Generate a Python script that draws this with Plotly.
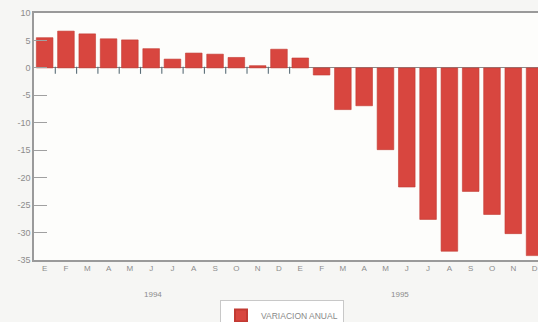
import plotly.graph_objects as go

months = ["E", "F", "M", "A", "M", "J", "J", "A", "S", "O", "N", "D",
          "E", "F", "M", "A", "M", "J", "J", "A", "S", "O", "N", "D"]
years = ["1994", "1995"]
year_pos = [5.1, 16.7]
variacion = [5.5, 6.7, 6.2, 5.3, 5.1, 3.5, 1.6, 2.7, 2.5, 1.9, 0.4, 3.4,
             1.8, -1.3, -7.6, -6.9, -14.9, -21.7, -27.6, -33.4, -22.5, -26.7, -30.2, -34.2]
y_ticks = [10, 5, 0, -5, -10, -15, -20, -25, -30, -35]

x = list(range(len(months)))
grey = "#8c8c8c"

fig = go.Figure()
fig.add_trace(go.Bar(
    x=x, y=variacion, name="VARIACION ANUAL",
    marker=dict(color="#d8463f", line=dict(color="#c23a33", width=0.6)),
    width=0.78,
))
# small ticks on the zero line between the 1994 bars
bx = [i + 0.5 for i in range(12)]
fig.add_trace(go.Scatter(
    x=bx, y=[-0.45] * len(bx), mode="markers", showlegend=False,
    marker=dict(symbol="line-ns", size=5, line=dict(color="#5a6e78", width=1.1)),
    hoverinfo="skip",
))

fig.update_layout(
    width=538, height=322,
    margin=dict(l=34, r=0, t=13, b=62),
    paper_bgcolor="#f6f6f4",
    plot_bgcolor="#fdfdfb",
    bargap=0.22,
    font=dict(family="Liberation Sans, Arial, sans-serif", color=grey),
    showlegend=True,
    legend=dict(
        orientation="h", xref="container", yref="container",
        x=282 / 538, xanchor="center", y=1 - 300 / 322, yanchor="top",
        bgcolor="#ffffff", bordercolor="#c8c8c8", borderwidth=1,
        font=dict(size=8.5, color="#8a8a8a"),
        itemsizing="constant", itemwidth=30,
        tracegroupgap=0,
    ),
    xaxis=dict(
        range=[-0.5, 23.16], tickmode="array", tickvals=x, ticktext=months,
        showgrid=False, zeroline=False, ticks="",
        showline=True, linecolor="#9a9a9a", linewidth=1.5, mirror=True,
        tickfont=dict(size=8, color="#8c8c8c"),
    ),
    yaxis=dict(
        range=[-35, 10], tickmode="array", tickvals=y_ticks,
        ticktext=[str(v) for v in y_ticks],
        showgrid=False, zeroline=True, zerolinecolor="#8a8a8a", zerolinewidth=1,
        showline=True, linecolor="#9a9a9a", linewidth=1.5,
        ticks="inside", ticklen=13, tickcolor="#a0a0a0", tickwidth=1,
        tickfont=dict(size=9, color="#8c8c8c"),
    ),
)

for yr, pos in zip(years, year_pos):
    fig.add_annotation(
        x=pos, y=0, xref="x", yref="paper",
        text=yr, showarrow=False, yanchor="top", yshift=-28,
        font=dict(size=8, color="#8c8c8c"),
    )

fig.write_html("out.html")
